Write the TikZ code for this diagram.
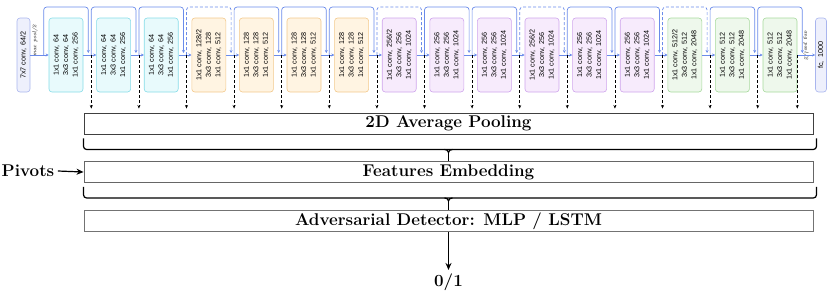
\documentclass[tikz,border=0pt]{standalone}
\usepackage{fontspec}
\setsansfont{Liberation Sans}
\usetikzlibrary{positioning, arrows.meta, calc}

\definecolor{skipblue}{HTML}{6A8BEA}
\definecolor{stemfill}{HTML}{EEF0FC}
\definecolor{stemdraw}{HTML}{A9B5EE}
\definecolor{cyanfill}{HTML}{E8FAFC}
\definecolor{cyandraw}{HTML}{86DCE8}
\definecolor{orangefill}{HTML}{FFF4E2}
\definecolor{orangedraw}{HTML}{F3C98C}
\definecolor{purplefill}{HTML}{F7EBFC}
\definecolor{purpledraw}{HTML}{CFA5EC}
\definecolor{greenfill}{HTML}{EEF8EC}
\definecolor{greendraw}{HTML}{A6D99C}

\begin{document}
\begin{tikzpicture}[
  x=1pt, y=-1pt,
  blk/.style = {draw, rounded corners=3pt, rotate=90, minimum width=74pt,
    minimum height=34pt, inner sep=0pt, align=center, line width=0.6pt,
    font=\sffamily\fontsize{7.2}{9.5}\selectfont},
  stemblk/.style = {blk, minimum height=13pt, draw=stemdraw, fill=stemfill},
  cyanblk/.style = {blk, draw=cyandraw, fill=cyanfill},
  orangeblk/.style = {blk, draw=orangedraw, fill=orangefill},
  purpleblk/.style = {blk, draw=purpledraw, fill=purplefill},
  greenblk/.style = {blk, draw=greendraw, fill=greenfill},
  mainln/.style = {draw=skipblue, line width=0.7pt, -{Stealth[length=3pt, width=3pt]}},
  skipln/.style = {mainln, rounded corners=3pt},
  tap/.style = {densely dashed, line width=0.8pt, shorten >=4pt,
    -{Stealth[length=3.5pt, width=3pt]}},
  bar/.style = {draw=black!75, line width=0.9pt, minimum width=729pt,
    minimum height=21pt, inner sep=0pt, font=\bfseries\fontsize{17}{17}\selectfont},
  brc/.style = {line width=1.2pt, rounded corners=3pt},
  big/.style = {font=\bfseries\fontsize{17}{17}\selectfont},
  arr/.style = {-{Stealth[length=7pt, width=6pt]}, line width=1.2pt},
  pool/.style = {rotate=90, inner sep=0pt, font=\itshape\fontsize{5.5}{5.5}\selectfont}
]
\useasboundingbox (0,0) rectangle (830,306);

% ResNet stem and head (rotated: .north is the left side, .south the right side)
\node[stemblk] (stem) at (23.5,55) {7x7 conv,\enspace 64/2};
\node[pool] (mp) at (35,41) {max pool/2};
\node[stemblk, minimum height=11pt] (fc) at (821,55) {fc,\enspace 1000};
\node[pool, rotate=180] (ap) at (806,45) {avg pool/2};

% Bottleneck blocks
\foreach \i/\a/\b/\c/\st in {
  1/64/64/256/cyanblk, 2/64/64/256/cyanblk, 3/64/64/256/cyanblk,
  4/{128/2}/128/512/orangeblk, 5/128/128/512/orangeblk,
  6/128/128/512/orangeblk, 7/128/128/512/orangeblk,
  8/{256/2}/256/1024/purpleblk, 9/256/256/1024/purpleblk,
  10/256/256/1024/purpleblk, 11/{256/2}/256/1024/purpleblk,
  12/256/256/1024/purpleblk, 13/256/256/1024/purpleblk,
  14/{512/2}/512/2048/greenblk, 15/512/512/2048/greenblk,
  16/512/512/2048/greenblk}
{
  \pgfmathsetmacro\cx{66+47.6*(\i-1)}
  \node[\st] (b\i) at (\cx,55)
    {1x1 conv,\enspace\a\\3x3 conv,\enspace\b\\1x1 conv,\enspace\c};
}

% Pooling, embedding and detector
\node[bar] (pool) at (448.5,123.5) {2D Average Pooling};
\node[bar, draw=black!60] (embed) at (448.5,172) {Features Embedding};
\node[bar, draw=black!55] (detect) at (448.5,221) {Adversarial Detector: MLP / LSTM};
\node[big] (piv) at (28,171) {Pivots};
\node[big, below=38pt of detect.south, anchor=north] (out) {0/1};

% Main path
\draw[mainln] (stem.south) -- (b1.north);
\foreach \i [evaluate=\i as \j using int(\i+1)] in {1,...,15}
  \draw[mainln] (b\i.south) -- (b\j.north);
\draw[mainln] (b16.south) -- (fc.north);

% Shortcuts (dashed = projection)
\foreach \i in {1,2,3,5,6,7,9,10,12,13,15,16}
  \draw[skipln] ([xshift=-5pt]b\i.north) -- ++(0,-48) -| ([xshift=5pt, yshift=2pt]b\i.south);
\foreach \i in {4,8,11,14}
  \draw[skipln, densely dashed] ([xshift=-5pt]b\i.north) -- ++(0,-48) -| ([xshift=5pt, yshift=2pt]b\i.south);

% Features taken after every block
\foreach \i in {1,...,15}
  \draw[tap] ([xshift=8pt]b\i.south) -- ([xshift=8pt]b\i.south |- pool.north);
\draw[tap] (b16.south) -- (b16.south |- pool.north);

% Braces
\foreach \top/\bot in {pool/embed, embed/detect} {
  \draw[brc] ([yshift=-4pt]\top.south west) |- ([yshift=-15pt]\top.south)
    -| ([xshift=3pt, yshift=-4pt]\top.south east);
  \draw[line width=1.2pt] ([xshift=-4pt, yshift=-15pt]\top.south)
    to[out=0, in=90] ([yshift=-18pt]\top.south)
    to[out=90, in=180] ([xshift=4pt, yshift=-15pt]\top.south);
  \draw[line width=1.2pt] ([yshift=-18pt]\top.south) -- (\bot.north);
}

% Inputs and output
\draw[arr] (piv.east) -- (embed.west);
\draw[arr] (detect.south) -- (out.north);

\end{tikzpicture}
\end{document}
